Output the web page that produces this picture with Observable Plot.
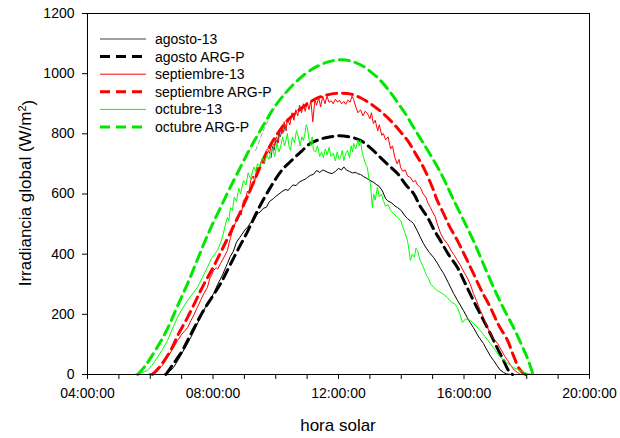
<!DOCTYPE html>
<html>
<head>
<meta charset="utf-8">
<script src="https://cdn.jsdelivr.net/npm/d3@7"></script>
<script src="https://cdn.jsdelivr.net/npm/@observablehq/plot@0.6"></script>
<style>
  html, body { margin: 0; padding: 0; background: #fff; }
  #chart { width: 620px; height: 438px; }
</style>
</head>
<body>
<div id="chart"></div>
<script>
// ---- data: [hora solar (h), irradiancia (W/m2)] ----
const ago13 = [[6.42,0],[6.6,8],[6.74,23],[6.9,50],[7.05,78],[7.19,103],[7.35,135],[7.5,168],[7.6,190],[7.75,222],[7.9,248],[8.02,269],[8.15,300],[8.3,330],[8.4,355],[8.46,369],[8.55,392],[8.65,410],[8.75,440],[8.85,455],[8.95,470],[9.05,485],[9.1,489],[9.2,505],[9.3,512],[9.42,535],[9.5,540],[9.6,552],[9.7,556],[9.8,575],[9.93,585],[10.0,592],[10.1,600],[10.2,608],[10.3,615],[10.4,612],[10.47,622],[10.55,630],[10.65,628],[10.75,640],[10.85,645],[10.95,650],[11.01,655],[11.1,662],[11.2,665],[11.3,678],[11.4,672],[11.5,680],[11.6,675],[11.7,670],[11.8,668],[11.9,675],[12.0,685],[12.1,680],[12.17,690],[12.25,680],[12.35,675],[12.45,670],[12.55,672],[12.6,668],[12.7,665],[12.8,658],[12.9,652],[13.0,645],[13.1,640],[13.2,632],[13.3,625],[13.4,610],[13.5,585],[13.56,578],[13.7,570],[13.8,560],[13.88,555],[14.0,545],[14.1,530],[14.2,518],[14.3,510],[14.39,502],[14.5,480],[14.6,458],[14.71,435],[14.8,420],[14.9,405],[15.03,389],[15.15,370],[15.25,352],[15.35,336],[15.5,305],[15.67,269],[15.8,245],[15.98,213],[16.1,190],[16.2,172],[16.3,156],[16.45,128],[16.62,103],[16.75,78],[16.85,60],[16.94,47],[17.05,30],[17.15,15],[17.26,7],[17.35,2],[17.48,0]];
const ago13Pico = [[9.85,720],[9.9,760],[9.95,745],[10.0,780],[10.05,770],[10.1,800],[10.15,790],[10.2,821],[10.25,805],[10.3,830]];
const ago13Gris = [[9.36,745],[9.6,810],[9.85,865],[10.1,910],[10.41,951]];
const agoArg = [[6.5,0],[6.7,30],[7.0,75],[7.19,113],[7.45,165],[7.7,213],[8.0,262],[8.24,302],[8.5,355],[8.78,412],[9.1,475],[9.42,545],[9.83,622],[10.2,680],[10.47,708],[10.8,740],[11.1,768],[11.45,783],[11.75,790],[12.0,794],[12.35,790],[12.7,778],[13.0,755],[13.34,721],[13.6,695],[13.88,668],[14.15,630],[14.39,602],[14.61,558],[14.84,522],[15.05,480],[15.25,445],[15.5,400],[15.79,356],[16.05,300],[16.3,246],[16.6,185],[16.84,136],[17.05,90],[17.26,47],[17.38,20],[17.48,5],[17.55,0]];
const sep13 = [[5.91,0],[6.05,4],[6.23,13],[6.4,32],[6.55,57],[6.7,82],[6.87,113],[7.0,133],[7.1,145],[7.19,156],[7.3,180],[7.4,200],[7.5,223],[7.6,245],[7.7,268],[7.82,289],[7.9,320],[7.95,330],[8.02,346],[8.1,355],[8.15,350],[8.24,369],[8.35,390],[8.46,412],[8.52,440],[8.56,455],[8.65,490],[8.72,505],[8.78,512],[8.85,540],[8.9,530],[8.97,578],[9.05,590],[9.1,610],[9.15,600],[9.2,645],[9.28,660],[9.33,640],[9.4,690],[9.45,670],[9.51,700],[9.58,720],[9.63,700],[9.7,745],[9.74,750],[9.8,735],[9.88,770],[9.95,760],[10.02,790],[10.08,770],[10.15,820],[10.2,800],[10.27,840],[10.33,810],[10.37,850],[10.45,830],[10.52,870],[10.58,845],[10.64,880],[10.7,860],[10.76,895],[10.82,870],[10.88,900],[10.94,875],[11.0,905],[11.06,880],[11.12,910],[11.18,840],[11.25,915],[11.3,895],[11.37,920],[11.43,890],[11.5,925],[11.57,900],[11.63,925],[11.7,905],[11.77,910],[11.83,900],[11.9,915],[11.97,905],[12.03,912],[12.1,900],[12.17,908],[12.23,898],[12.3,912],[12.37,905],[12.43,925],[12.48,915],[12.55,890],[12.62,870],[12.7,880],[12.78,860],[12.85,875],[12.92,868],[13.0,850],[13.05,870],[13.11,834],[13.17,845],[13.25,810],[13.3,830],[13.38,795],[13.43,801],[13.5,780],[13.58,790],[13.66,750],[13.72,760],[13.8,720],[13.87,700],[13.93,715],[13.98,688],[14.05,675],[14.13,680],[14.2,660],[14.29,655],[14.38,640],[14.45,645],[14.52,630],[14.61,622],[14.7,600],[14.78,590],[14.85,570],[14.93,555],[15.0,540],[15.08,525],[15.15,500],[15.25,470],[15.35,450],[15.47,435],[15.6,410],[15.7,395],[15.79,379],[15.9,360],[16.0,340],[16.1,322],[16.2,300],[16.3,269],[16.4,245],[16.52,213],[16.62,190],[16.75,156],[16.9,125],[17.07,103],[17.2,80],[17.3,60],[17.39,47],[17.5,28],[17.6,15],[17.7,7],[17.8,0]];
const sepArg = [[6.07,0],[6.3,25],[6.65,80],[6.9,135],[7.19,190],[7.45,245],[7.7,298],[8.0,355],[8.24,405],[8.5,460],[8.78,520],[9.1,592],[9.4,665],[9.74,745],[10.05,800],[10.37,844],[10.7,875],[11.01,900],[11.35,920],[11.75,932],[12.1,935],[12.4,932],[12.7,920],[13.02,900],[13.34,875],[13.66,844],[13.95,810],[14.2,778],[14.45,735],[14.71,688],[15.0,620],[15.15,578],[15.35,535],[15.55,490],[15.79,445],[16.05,390],[16.3,336],[16.55,280],[16.84,223],[17.1,165],[17.39,113],[17.55,70],[17.74,23],[17.85,8],[17.96,0]];
const oct13 = [[5.47,0],[5.7,5],[5.91,13],[6.05,30],[6.23,57],[6.4,85],[6.55,113],[6.7,150],[6.87,190],[7.0,215],[7.19,246],[7.35,268],[7.5,289],[7.65,320],[7.82,356],[7.95,385],[8.05,400],[8.14,412],[8.25,440],[8.33,469],[8.4,500],[8.46,522],[8.5,510],[8.56,555],[8.62,545],[8.68,590],[8.75,575],[8.82,620],[8.88,600],[8.97,645],[9.05,630],[9.12,670],[9.2,650],[9.3,690],[9.36,675],[9.42,701],[9.5,690],[9.58,720],[9.65,705],[9.72,730],[9.78,715],[9.83,735],[9.9,750],[9.97,725],[10.04,770],[10.1,740],[10.15,755],[10.22,790],[10.28,760],[10.33,780],[10.37,801],[10.42,760],[10.47,745],[10.53,790],[10.6,770],[10.66,811],[10.72,790],[10.78,760],[10.83,790],[10.88,778],[10.93,800],[10.97,830],[11.01,821],[11.06,780],[11.12,760],[11.16,790],[11.2,745],[11.27,740],[11.33,760],[11.4,725],[11.46,740],[11.52,721],[11.58,750],[11.64,730],[11.7,755],[11.76,725],[11.84,735],[11.9,710],[11.96,740],[12.02,715],[12.06,721],[12.12,745],[12.17,711],[12.23,735],[12.29,745],[12.35,720],[12.4,760],[12.45,740],[12.48,768],[12.55,750],[12.62,780],[12.66,760],[12.7,778],[12.75,740],[12.8,721],[12.86,700],[12.92,688],[12.97,650],[13.02,635],[13.05,590],[13.08,555],[13.12,600],[13.17,580],[13.24,622],[13.3,590],[13.37,600],[13.43,578],[13.5,560],[13.58,565],[13.66,545],[13.75,535],[13.88,522],[13.98,512],[14.05,490],[14.12,470],[14.2,445],[14.25,410],[14.29,379],[14.35,400],[14.42,390],[14.47,420],[14.52,412],[14.6,380],[14.71,356],[14.8,330],[14.87,320],[14.93,302],[15.03,290],[15.15,279],[15.3,270],[15.47,256],[15.6,240],[15.7,235],[15.79,223],[15.87,200],[15.95,173],[16.05,185],[16.2,180],[16.35,165],[16.52,146],[16.68,125],[16.84,103],[17.0,80],[17.16,57],[17.35,40],[17.58,23],[17.75,15],[17.9,7],[18.05,3],[18.2,0]];
const octArg = [[5.6,0],[5.85,30],[6.1,70],[6.4,122],[6.65,175],[6.9,235],[7.19,302],[7.45,368],[7.7,432],[7.95,492],[8.24,555],[8.55,622],[8.88,690],[9.15,745],[9.42,795],[9.7,845],[9.93,885],[10.25,928],[10.57,965],[10.95,1000],[11.33,1025],[11.7,1040],[12.06,1046],[12.4,1042],[12.8,1024],[13.1,1000],[13.34,977],[13.6,945],[13.88,905],[14.15,864],[14.39,822],[14.65,778],[14.93,730],[15.25,672],[15.47,625],[15.67,580],[16.0,510],[16.3,445],[16.6,372],[16.94,290],[17.25,222],[17.58,156],[17.85,95],[18.0,60],[18.1,32],[18.2,0]];

const series = ["agosto-13", "agosto ARG-P", "septiembre-13", "septiembre ARG-P", "octubre-13", "octubre ARG-P"];
const xTicks = d3.range(4, 21, 1);
const yTicks = d3.range(0, 1201, 200);

const fmtHora = h => (h % 4 === 0 ? String(h).padStart(2, "0") + ":00:00" : "");
const pt = d => ({h: d[0], v: d[1]});

const solid = (data, color, extra = {}) =>
  Plot.line(data.map(pt), {x: "h", y: "v", stroke: color, strokeWidth: 1, ...extra});
const dashed = (data, color) =>
  Plot.line(data.map(pt), {x: "h", y: "v", stroke: color, strokeWidth: 3, strokeDasharray: "10,6", curve: "catmull-rom"});

const RED = "#ff0000", GREEN = "#00ff00", GREEN_D = "#00e800", BLACK = "#000000";

const chart = Plot.plot({
  width: 620,
  height: 438,
  marginLeft: 87,
  marginRight: 31,
  marginTop: 13,
  marginBottom: 64,
  style: {fontFamily: "'Liberation Sans', Arial, sans-serif", fontSize: "14px", color: "#000", background: "#fff"},
  x: {domain: [4, 20]},
  y: {domain: [0, 1200]},
  marks: [
    solid(ago13, BLACK),
    solid(ago13Pico, "#444"),
    solid(ago13Gris, "#888", {strokeWidth: 0.8, strokeDasharray: "4,3"}),
    dashed(agoArg, BLACK),
    solid(sep13, RED),
    dashed(sepArg, RED),
    solid(oct13, GREEN),
    dashed(octArg, GREEN_D),
    Plot.frame({stroke: "#000"}),
    Plot.axisX({ticks: xTicks, tickFormat: fmtHora, tickSize: 5, tickPadding: 9, label: null}),
    Plot.axisY({ticks: yTicks, tickFormat: d => String(d), tickSize: 5, tickPadding: 8, label: null})
  ]
});

document.getElementById("chart").appendChild(chart);

// axis titles and legend
const svg = d3.select(chart);
const font = "'Liberation Sans', Arial, sans-serif";
svg.append("text")
  .attr("x", 338).attr("y", 431)
  .attr("text-anchor", "middle")
  .style("font-family", font).style("font-size", "17px")
  .text("hora solar");
const yl = svg.append("text")
  .attr("transform", "translate(31,193) rotate(-90)")
  .attr("text-anchor", "middle")
  .style("font-family", font).style("font-size", "17px");
yl.append("tspan").text("Irradiancia global (W/m");
yl.append("tspan").attr("dy", "-0.45em").style("font-size", "11px").text("2");
yl.append("tspan").attr("dy", "0.45em").text(")");

const legendStyle = [
  {color: "#808080", w: 1.5, dash: null},
  {color: BLACK, w: 3, dash: "10,6"},
  {color: RED, w: 1, dash: null},
  {color: RED, w: 3, dash: "10,6"},
  {color: GREEN, w: 1, dash: null},
  {color: GREEN_D, w: 3, dash: "10,6"}
];
const lg = svg.append("g").attr("text-anchor", "start");
series.forEach((name, i) => {
  const y = 39 + i * 17.6;
  const s = legendStyle[i];
  lg.append("line").attr("x1", 100).attr("x2", 146).attr("y1", y).attr("y2", y)
    .attr("stroke", s.color).attr("stroke-width", s.w)
    .attr("stroke-dasharray", s.dash);
  lg.append("text").attr("x", 155).attr("y", y).attr("dy", "0.35em")
    .attr("text-anchor", "start")
    .style("font-family", font).style("font-size", "14px").text(name);
});
</script>
</body>
</html>
